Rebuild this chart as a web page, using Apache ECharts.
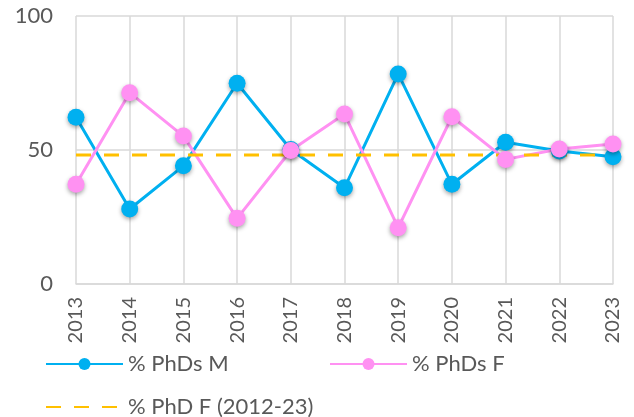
<!DOCTYPE html>
<html lang="en">
<head>
    <meta charset="UTF-8">
    <title>% PhDs</title>
    <style>
        html, body { margin: 0; padding: 0; background: #fff; }
        #chart { width: 634px; height: 417px; }
    </style>
</head>
<body>
    <div id="chart"></div>
    <script src="https://cdn.jsdelivr.net/npm/echarts@6/dist/echarts.min.js"></script>
    <script>
        // data
        const years = ['2013', '2014', '2015', '2016', '2017', '2018', '2019', '2020', '2021', '2022', '2023'];
        const phdM = [62.2, 28.0, 44.1, 74.9, 50.2, 35.9, 78.4, 37.2, 52.9, 49.6, 47.5];
        const phdF = [37.2, 71.4, 55.2, 24.5, 49.8, 63.4, 21.0, 62.4, 46.5, 50.4, 52.2];
        const avgF = 48.1; // % PhD F (2012-23)
        const avgLine = years.map(() => avgF);

        const font = 'Lato, "Open Sans", sans-serif';
        const textColor = '#595959';
        const gridColor = '#D9D9D9';

        const chart = echarts.init(document.getElementById('chart'));

        const legendText = { color: textColor, fontSize: 22, fontFamily: font };
        const legendBase = { itemWidth: 77, itemHeight: 15, itemGap: 6, padding: 0, textStyle: legendText };

        chart.setOption({
            animation: false,
            grid: { left: 76, right: 21, top: 16, bottom: 133, containLabel: false },
            legend: [
                Object.assign({ data: ['% PhDs M'], left: 45, top: 353 }, legendBase),
                Object.assign({ data: ['% PhDs F'], left: 329, top: 353 }, legendBase),
                // dashed line only, no marker
                Object.assign({ data: [{ name: '% PhD F (2012-23)', itemStyle: { opacity: 0 } }], left: 45, top: 396 }, legendBase)
            ],
            xAxis: {
                type: 'category',
                data: years,
                boundaryGap: false,
                axisLine: { lineStyle: { color: gridColor, width: 1.5 } },
                axisTick: { show: false },
                splitLine: { show: true, lineStyle: { color: gridColor, width: 1.5 } },
                axisLabel: { rotate: 90, margin: 13, color: textColor, fontSize: 20, fontFamily: font }
            },
            yAxis: {
                type: 'value',
                min: 0,
                max: 100,
                interval: 50,
                axisLine: { show: false },
                axisTick: { show: false },
                splitLine: { lineStyle: { color: gridColor, width: 1.5 } },
                axisLabel: { margin: 23, color: textColor, fontSize: 22, fontFamily: font }
            },
            series: [
                {
                    name: '% PhDs M',
                    type: 'line',
                    data: phdM,
                    symbol: 'circle',
                    symbolSize: 17,
                    lineStyle: { color: '#00B0F0', width: 3 },
                    itemStyle: { color: '#00B0F0', shadowColor: 'rgba(0,0,0,0.35)', shadowBlur: 4, shadowOffsetY: 2 }
                },
                {
                    name: '% PhDs F',
                    type: 'line',
                    data: phdF,
                    symbol: 'circle',
                    symbolSize: 17,
                    lineStyle: { color: '#FF91F2', width: 3 },
                    itemStyle: { color: '#FF91F2', shadowColor: 'rgba(0,0,0,0.35)', shadowBlur: 4, shadowOffsetY: 2 }
                },
                {
                    name: '% PhD F (2012-23)',
                    type: 'line',
                    data: avgLine,
                    symbol: 'none',
                    lineStyle: { color: '#FFC000', width: 3, type: [15, 13] },
                    itemStyle: { color: '#FFC000' }
                }
            ]
        });
    </script>
</body>
</html>
